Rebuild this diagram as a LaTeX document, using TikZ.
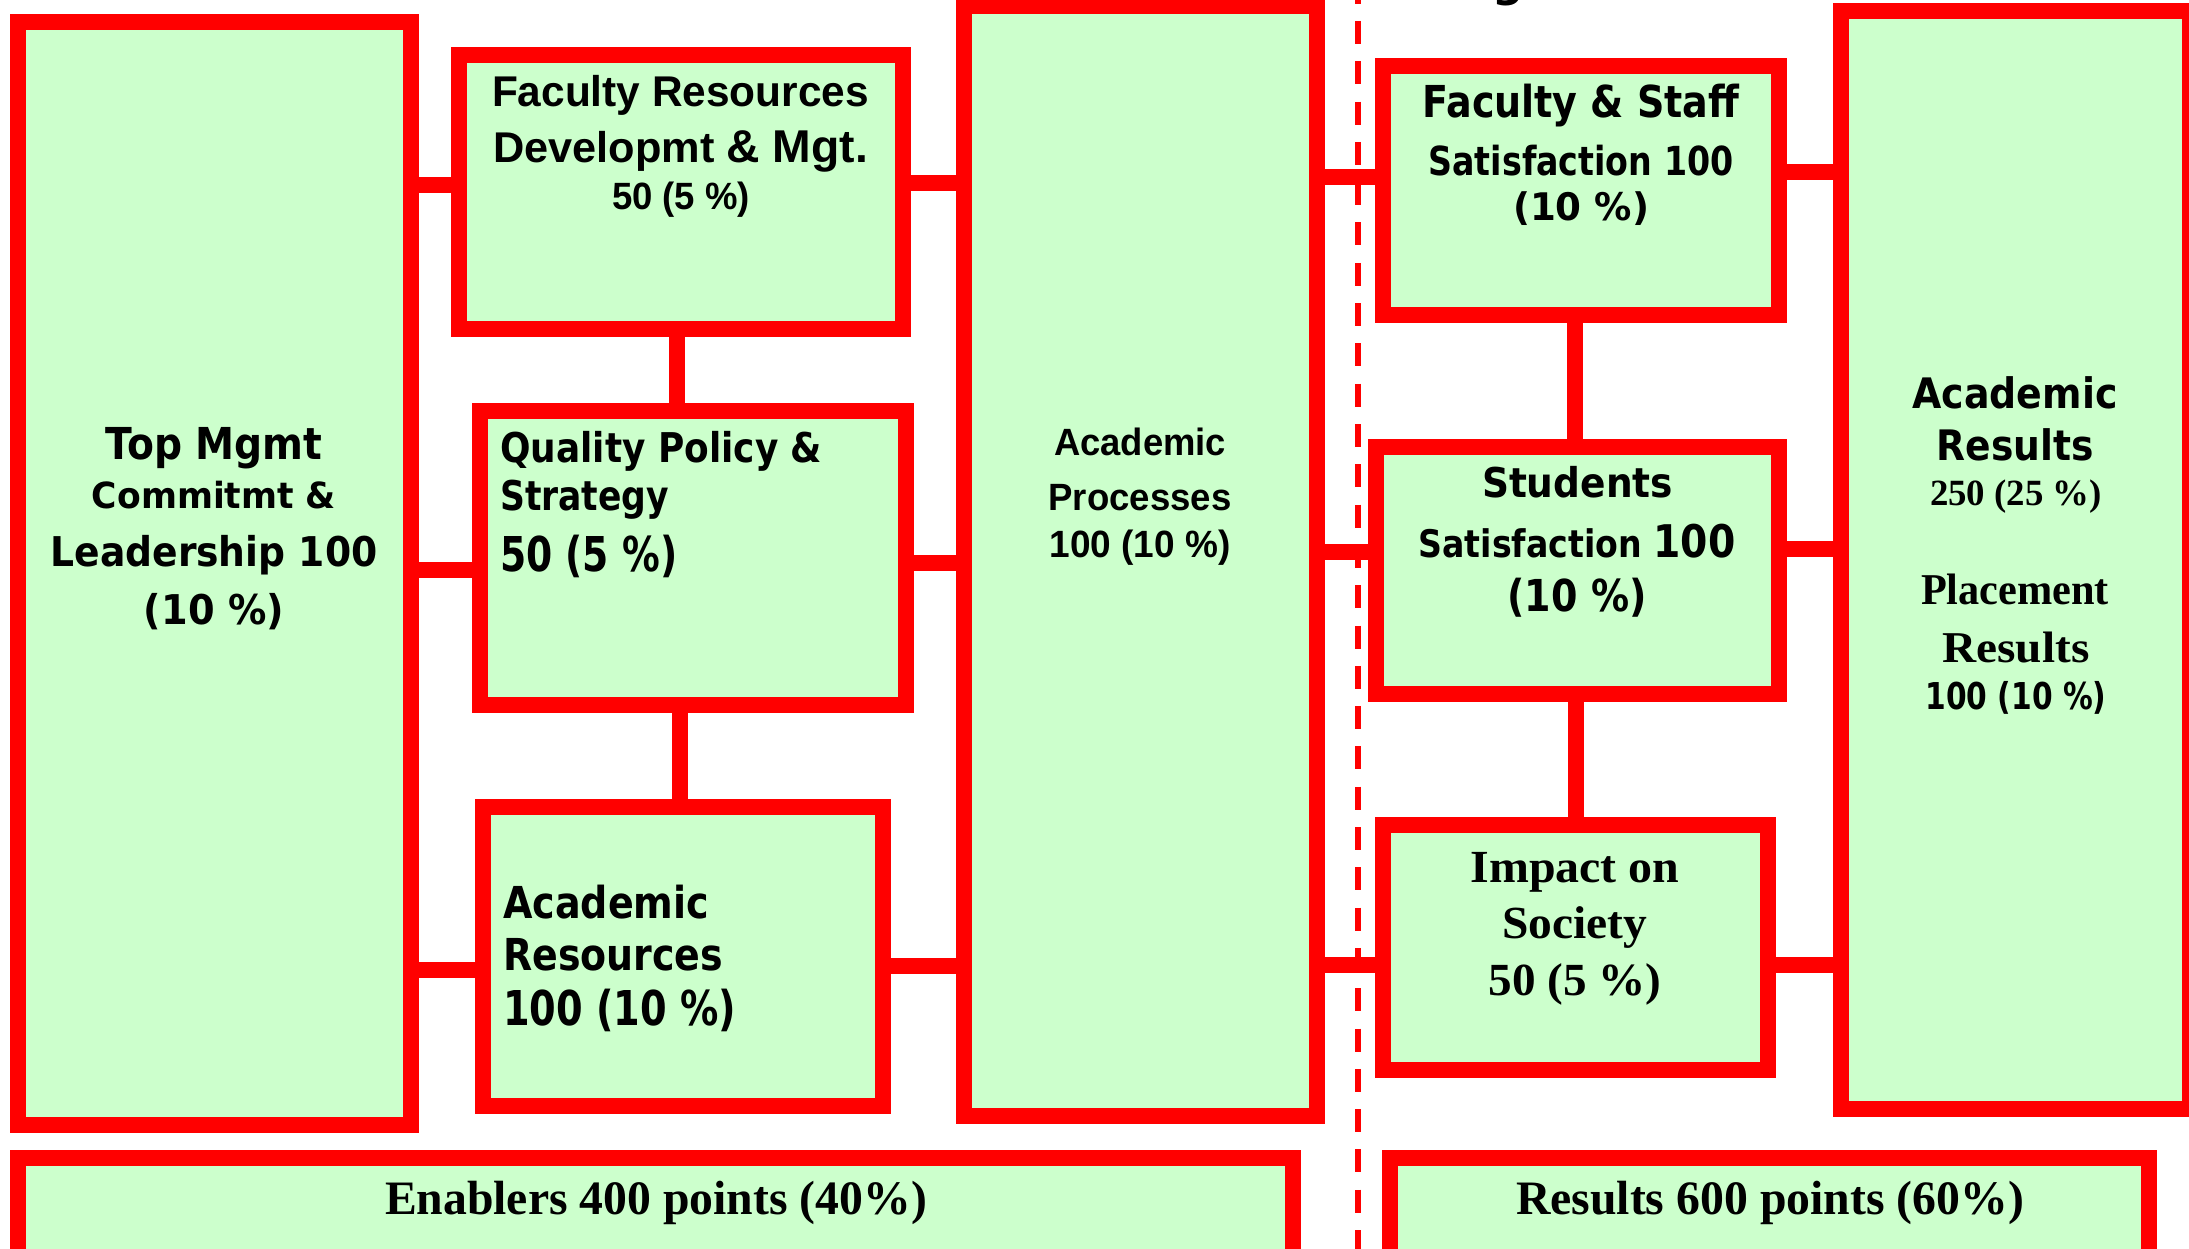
\documentclass[tikz,border=0pt]{standalone}
\usepackage{fontspec}
\usepackage{graphicx}
\newfontfamily\versans{DejaVu Sans}
\newfontfamily\arsans{Liberation Sans}
\newfontfamily\tmserif{Liberation Serif}
% stretch a line to a given width, keeping its natural height
\newcommand\fitw[2]{\resizebox{#1pt}{\height}{#2}}
\newcommand\VS[1]{\versans\bfseries\fontsize{#1}{#1}\selectfont}
\newcommand\AS[1]{\arsans\bfseries\fontsize{#1}{#1}\selectfont}
\newcommand\TS[1]{\tmserif\bfseries\fontsize{#1}{#1}\selectfont}
\definecolor{panelgreen}{HTML}{CCFFCC}
\definecolor{panelred}{HTML}{FF0000}
\begin{document}
\begin{tikzpicture}[x=1pt,y=-1pt,
  panel/.style={draw=panelred, fill=panelgreen, line width=16pt, rectangle, inner sep=0pt},
  conn/.style={draw=panelred, line width=16pt},
  divider/.style={draw=panelred, line width=6pt, dash pattern=on 23pt off 17.3pt, dash phase=19.3pt},
  txt/.style={inner sep=0pt, anchor=base, text=black},
  txtl/.style={inner sep=0pt, anchor=base west, text=black}]
\useasboundingbox (0,0) rectangle (2189,1249);
\fill[white] (0,0) rectangle (2189,1249);

% dashed line between enablers and results
\coordinate (divtop) at (1358,0);
\coordinate (divbot) at (1358,1249);
\draw[divider] (divtop) -- (divbot);

% enabler panels
\node[panel, minimum width=393pt, minimum height=1103pt] (tm) at (214.5,573.5) {};
\node[panel, minimum width=444pt, minimum height=274pt] (fr) at (681,192) {};
\node[panel, minimum width=426pt, minimum height=294pt] (qp) at (693,558) {};
\node[panel, minimum width=400pt, minimum height=299pt] (ares) at (683,956.5) {};
\node[panel, minimum width=353pt, minimum height=1110pt] (ap) at (1140.5,561) {};
% result panels
\node[panel, minimum width=396pt, minimum height=249pt] (fs) at (1581,190.5) {};
\node[panel, minimum width=403pt, minimum height=247pt] (st) at (1577.5,570.5) {};
\node[panel, minimum width=385pt, minimum height=245pt] (soc) at (1575.5,947.5) {};
\node[panel, minimum width=349pt, minimum height=1098pt] (ar) at (2015.5,560) {};
% totals
\node[panel, minimum width=1275pt, minimum height=100pt] (enab) at (655.5,1208) {};
\node[panel, minimum width=759pt, minimum height=100pt] (resu) at (1769.5,1208) {};

% connectors, enablers side
\draw[conn] ([xshift=-15pt]tm.east |- 0,185) -- (fr.west |- 0,185);
\draw[conn] (tm.east |- 0,570) -- (qp.west |- 0,570);
\draw[conn] (tm.east |- 0,970) -- (ares.west |- 0,970);
\draw[conn] (fr.east |- 0,183) -- (ap.west |- 0,183);
\draw[conn] (qp.east |- 0,563) -- (ap.west |- 0,563);
\draw[conn] (ares.east |- 0,966) -- (ap.west |- 0,966);
\draw[conn] (fr.south -| 677,0) -- (qp.north -| 677,0);
\draw[conn] (qp.south -| 680,0) -- (ares.north -| 680,0);
% connectors, results side
\draw[conn] (ap.east |- 0,177) -- (fs.west |- 0,177);
\draw[conn] (ap.east |- 0,552) -- (st.west |- 0,552);
\draw[conn] (ap.east |- 0,965) -- (soc.west |- 0,965);
\draw[conn] (fs.east |- 0,172) -- (ar.west |- 0,172);
\draw[conn] (st.east |- 0,549) -- (ar.west |- 0,549);
\draw[conn] (soc.east |- 0,965) -- (ar.west |- 0,965);
\draw[conn] (fs.south -| 1575,0) -- (st.north -| 1575,0);
\draw[conn] (st.south -| 1576,0) -- (soc.north -| 1576,0);

% heading above the panels (only its descender reaches the page)
\node[txt] (head) at (1508,-3) {\VS{44}g};

% Top management
\node[txt] (tm1) at (214,459) {\fitw{217}{\VS{44}Top Mgmt}};
\node[txt] (tm2) at (214,508) {\fitw{244}{\VS{36}Commitmt \&}};
\node[txt] (tm3) at (214,566) {\fitw{327}{\VS{41}Leadership 100}};
\node[txt] (tm4) at (214,624) {\fitw{140}{\VS{41}(10 \%)}};
% Faculty resources
\node[txt] (fr1) at (680.5,107) {\fitw{377}{\AS{43}Faculty Resources}};
\node[txt] (fr2) at (680.5,163) {\fitw{375}{\AS{43}Developmt \AS{46}\& Mgt.}};
\node[txt] (fr3) at (681,210) {\fitw{138}{\AS{38}50 (5 \%)}};
% Quality policy
\node[txtl] (qp1) at (500,462) {\fitw{322}{\VS{41}Quality Policy \&}};
\node[txtl] (qp2) at (500,510) {\fitw{169}{\VS{41}Strategy}};
\node[txtl] (qp3) at (500,571) {\fitw{177}{\VS{48}50 (5 \%)}};
% Academic resources
\node[txtl] (ar1) at (503,918) {\fitw{206}{\VS{44}Academic}};
\node[txtl] (ar2) at (503,970) {\fitw{220}{\VS{44}Resources}};
\node[txtl] (ar3) at (503,1025) {\fitw{233}{\VS{48}100 (10 \%)}};
% Academic processes
\node[txt] (ap1) at (1140,455) {\fitw{172}{\AS{38}Academic}};
\node[txt] (ap2) at (1140,510) {\fitw{183}{\AS{38}Processes}};
\node[txt] (ap3) at (1140,557) {\fitw{181}{\AS{38}100 (10 \%)}};
% Faculty and staff satisfaction
\node[txt] (fs1) at (1581,118) {\fitw{317}{\VS{44}Faculty \& Staff}};
\node[txt] (fs2) at (1581,176) {\fitw{305}{\VS{40}Satisfaction 100}};
\node[txt] (fs3) at (1581,221) {\fitw{136}{\VS{38}(10 \%)}};
% Student satisfaction
\node[txt] (st1) at (1577.5,497) {\fitw{191}{\VS{41}Students}};
\node[txt] (st2) at (1577,557) {\fitw{317}{\VS{38}Satisfaction \VS{45}100}};
\node[txt] (st3) at (1577,611) {\fitw{139}{\VS{44}(10 \%)}};
% Impact on society
\node[txt] (so1) at (1575,882) {\fitw{209}{\TS{46}Impact on}};
\node[txt] (so2) at (1575,938) {\fitw{145}{\TS{46}Society}};
\node[txt] (so3) at (1575,995) {\fitw{173}{\TS{46}50 (5 \%)}};
% Academic and placement results
\node[txt] (rs1) at (2015,408) {\fitw{205}{\VS{42}Academic}};
\node[txt] (rs2) at (2015,460) {\fitw{157}{\VS{42}Results}};
\node[txt] (rs3) at (2016,505) {\fitw{172}{\TS{37}250 (25 \%)}};
\node[txt] (rs4) at (2015,604) {\fitw{188}{\TS{44}Placement}};
\node[txt] (rs5) at (2016,662) {\fitw{147}{\TS{44}Results}};
\node[txt] (rs6) at (2016,709) {\fitw{181}{\VS{37}100 (10 \%)}};
% Totals
\node[txt] (en1) at (656,1214) {\fitw{542}{\TS{48}Enablers 400 points (40\%)}};
\node[txt] (re1) at (1770,1214) {\fitw{508}{\TS{48}Results 600 points (60\%)}};
\end{tikzpicture}
\end{document}
